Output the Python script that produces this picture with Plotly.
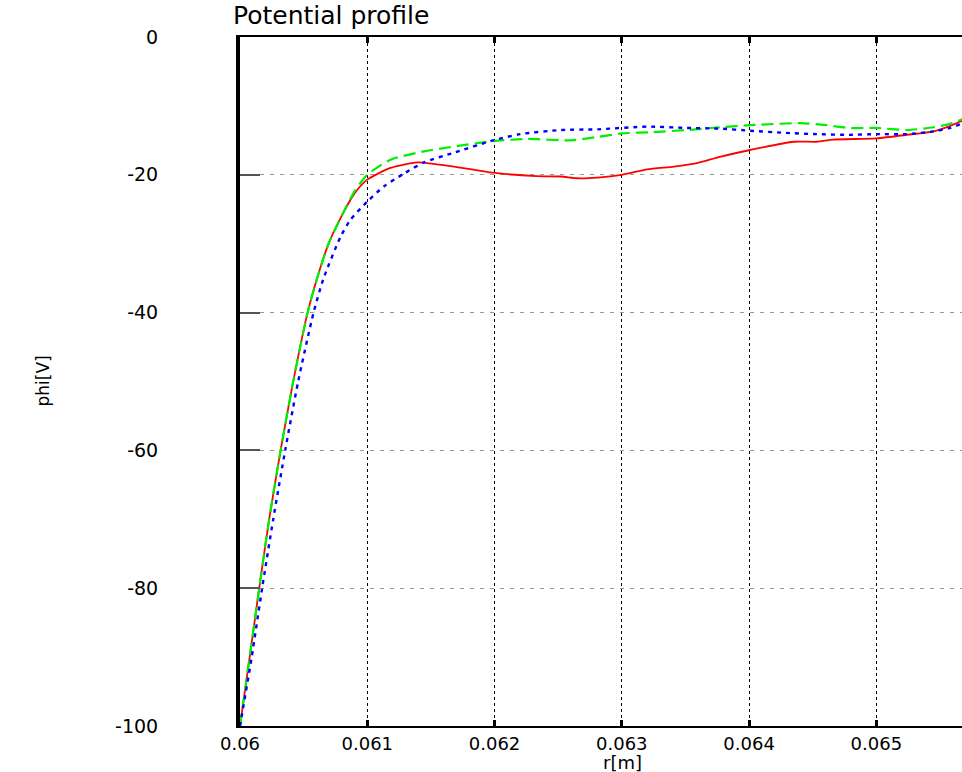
import plotly.graph_objects as go

# ---------------- data ----------------
r_red = [0.06, 0.060076, 0.060151, 0.060229, 0.060319, 0.060418, 0.060531, 0.060606,
         0.060696, 0.060798, 0.0609, 0.061, 0.061183, 0.061392, 0.06152, 0.06168,
         0.06199, 0.06233, 0.06252, 0.06265, 0.06281, 0.0630, 0.0632, 0.06341,
         0.06359, 0.06377, 0.06401, 0.06435, 0.06453, 0.06466, 0.065, 0.06524,
         0.06545, 0.06558, 0.06568, 0.0658]
phi_red = [-100, -90, -80, -70, -60, -50, -40, -35,
           -30, -26, -22.7, -20.7, -19.0, -18.2, -18.4, -18.8,
           -19.7, -20.2, -20.25, -20.5, -20.4, -20.0, -19.2, -18.8,
           -18.3, -17.4, -16.4, -15.2, -15.2, -14.9, -14.7, -14.2,
           -13.7, -12.9, -12.1, -11.0]

r_green = [0.06, 0.060076, 0.060151, 0.060229, 0.060319, 0.060418, 0.060531, 0.060606,
           0.060696, 0.060798, 0.0609, 0.061, 0.061183, 0.061445, 0.06168, 0.06199,
           0.06226, 0.0626, 0.06281, 0.0630, 0.06325, 0.06351, 0.06377, 0.06401,
           0.0644, 0.06461, 0.06479, 0.065, 0.06524, 0.06545, 0.06558, 0.06568, 0.0658]
phi_green = [-100, -90, -80, -70, -60, -50, -40, -35,
             -30, -26, -22.4, -20.0, -17.8, -16.6, -15.9, -15.1,
             -14.8, -15.0, -14.5, -14.0, -13.8, -13.5, -13.1, -12.8,
             -12.5, -12.8, -13.2, -13.2, -13.5, -13.1, -12.6, -11.9, -10.8]

r_blue = [0.06, 0.060092, 0.060174, 0.060261, 0.060355, 0.060457, 0.060578, 0.060657,
          0.06079, 0.060869, 0.061, 0.06113, 0.06129, 0.061445, 0.06168, 0.06199,
          0.0622, 0.06252, 0.06281, 0.0632, 0.06351, 0.06377, 0.06401, 0.06427,
          0.06453, 0.06479, 0.065, 0.06524, 0.06545, 0.06558, 0.06568, 0.0658]
phi_blue = [-100, -90, -80, -70, -60, -50, -40, -35,
            -29.0, -26.5, -23.9, -21.7, -19.8, -18.2, -16.8, -15.0,
            -14.1, -13.5, -13.4, -13.0, -13.2, -13.3, -13.6, -13.9,
            -14.1, -14.2, -14.1, -14.1, -13.7, -13.2, -12.5, -11.5]

x_ticks = [0.06, 0.061, 0.062, 0.063, 0.064, 0.065]
x_tick_labels = ["0.06", "0.061", "0.062", "0.063", "0.064", "0.065"]
x_next_tick = 0.066
x_next_label = "0.066"
y_ticks = [-100, -80, -60, -40, -20, 0]
y_tick_labels = ["-100", "-80", "-60", "-40", "-20", "0"]
x_range = [0.06, 0.065673]
y_range = [-100, 0]

title_text = "Potential profile"
x_title = "r[m]"
y_title = "phi[V]"

# ---------------- figure ----------------
FONT = "DejaVu Sans"
W, H = 962, 772
ML, MR, MT, MB = 240, 0, 37, 46

fig = go.Figure()
fig.add_trace(go.Scatter(x=r_red, y=phi_red, mode="lines",
                         line=dict(color="#ff0000", width=1.8, shape="spline", smoothing=0.6),
                         showlegend=False))
fig.add_trace(go.Scatter(x=r_green, y=phi_green, mode="lines",
                         line=dict(color="#00ee00", width=2.2, dash="12px,6px", shape="spline", smoothing=0.6),
                         showlegend=False))
fig.add_trace(go.Scatter(x=r_blue, y=phi_blue, mode="lines",
                         line=dict(color="#0000ff", width=2.4, dash="4px,5px", shape="spline", smoothing=0.6),
                         showlegend=False))

fig.update_layout(
    width=W, height=H,
    margin=dict(l=ML, r=MR, t=MT, b=MB, pad=0),
    paper_bgcolor="white", plot_bgcolor="white",
    showlegend=False,
    font=dict(family=FONT, color="black"),
)

fig.update_xaxes(
    range=x_range, tickmode="array", tickvals=x_ticks, ticktext=x_tick_labels,
    showgrid=True, gridcolor="black", gridwidth=1, griddash="dot",
    showline=True, linecolor="black", linewidth=2, mirror="ticks",
    ticks="inside", ticklen=6, tickwidth=3, tickcolor="black",
    tickfont=dict(family=FONT, size=18, color="black"),
    ticklabelstandoff=0,
    zeroline=False,
)
fig.update_yaxes(
    range=y_range, tickmode="array", tickvals=y_ticks, ticktext=y_tick_labels,
    showgrid=True, gridcolor="#999999", gridwidth=1, griddash="4px,6px",
    showline=True, linecolor="black", linewidth=4,
    ticks="inside", ticklen=20, tickwidth=1.5, tickcolor="#555555",
    tickfont=dict(family=FONT, size=19, color="black"),
    ticklabelstandoff=74,
    zeroline=False,
)

plot_h = H - MT - MB
plot_w = W - ML - MR

anns = [
    dict(text=title_text, xref="paper", yref="paper",
         x=(331 - ML) / plot_w, y=1 + (MT - 15) / plot_h,
         xanchor="center", yanchor="middle", showarrow=False,
         font=dict(family=FONT, size=25, color="black")),
    dict(text=x_title, xref="paper", yref="paper",
         x=(622 - ML) / plot_w, y=-(762 - (H - MB)) / plot_h,
         xanchor="center", yanchor="middle", showarrow=False,
         font=dict(family=FONT, size=18, color="black")),
    dict(text=y_title, xref="paper", yref="paper",
         x=-(ML - 42) / plot_w, y=0.5, textangle=-90,
         xanchor="center", yanchor="middle", showarrow=False,
         font=dict(family=FONT, size=17, color="black")),
    dict(text=x_next_label, xref="paper", yref="paper",
         x=(x_next_tick - x_range[0]) / (x_range[1] - x_range[0]), y=0,
         xanchor="center", yanchor="top", yshift=-3, showarrow=False,
         font=dict(family=FONT, size=18, color="black")),
]
fig.update_layout(annotations=anns)

fig.write_html("out.html")
